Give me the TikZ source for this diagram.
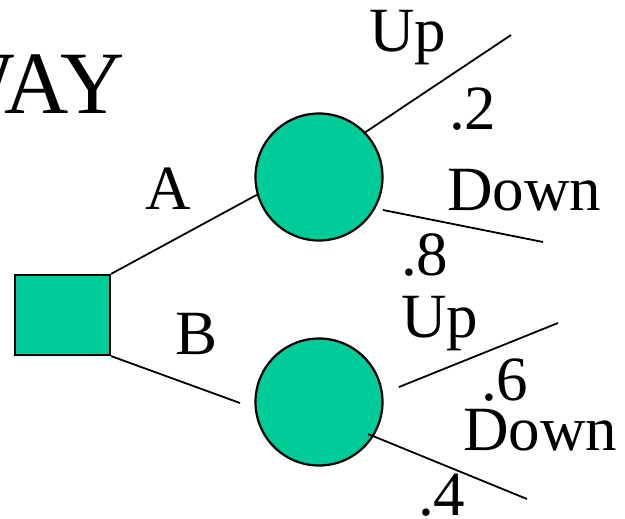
\documentclass[tikz,border=0pt]{standalone}
\usepackage{fontspec}
\setmainfont{Liberation Serif}
\definecolor{chance}{RGB}{0,204,153}
\begin{document}
\begin{tikzpicture}[x=1pt,y=-1pt,
  shape fill/.style={fill=chance,draw=black,line width=2.2pt},
  branch/.style={draw=black,line width=1.8pt},
  lbl/.style={inner sep=0pt,anchor=base west,font=\fontsize{63}{63}\selectfont},
  title/.style={inner sep=0pt,anchor=base east,font=\fontsize{89}{89}\selectfont}]
\useasboundingbox (0,0) rectangle (625,519);
\clip (0,0) rectangle (625,519);

% heading, running off the left edge
\node[title] (head) at (125,114) {WAY};

% decision node and the two chance nodes
\node[shape fill,rectangle,minimum width=95pt,minimum height=80pt,inner sep=0pt] (dec) at (62.5,315) {};
\node[shape fill,circle,minimum size=127pt,inner sep=0pt] (c1) at (319,177) {};
\node[shape fill,circle,minimum size=127pt,inner sep=0pt] (c2) at (319,402) {};

% free ends of the branches
\coordinate (bEnd) at (240,403);
\coordinate (u1End) at (511,35);
\coordinate (d1Start) at (383,210);
\coordinate (d1End) at (543,242);
\coordinate (u2Start) at (399,387);
\coordinate (u2End) at (558,323);
\coordinate (d2Start) at (368,434);
\coordinate (d2End) at (527,499);

% branches
\draw[branch] (dec.north east) -- (c1.196);
\draw[branch] (dec.south east) -- (bEnd);
\draw[branch] (c1.44) -- (u1End);
\draw[branch] (d1Start) -- (d1End);
\draw[branch] (u2Start) -- (u2End);
\draw[branch] (d2Start) -- (d2End);

% labels
\node[lbl] (la) at (145,210) {A};
\node[lbl] (lb) at (175,354) {B};
\node[lbl] (up1) at (369,52) {Up};
\node[lbl] (p2) at (449,130) {.2};
\node[lbl] (dn1) at (447,211) {Down};
\node[lbl] (p8) at (401,275) {.8};
\node[lbl] (up2) at (401,337) {Up};
\node[lbl] (p6) at (481,400) {.6};
\node[lbl] (dn2) at (463,450) {Down};
\node[lbl] (p4) at (418,515) {.4};
\end{tikzpicture}
\end{document}
